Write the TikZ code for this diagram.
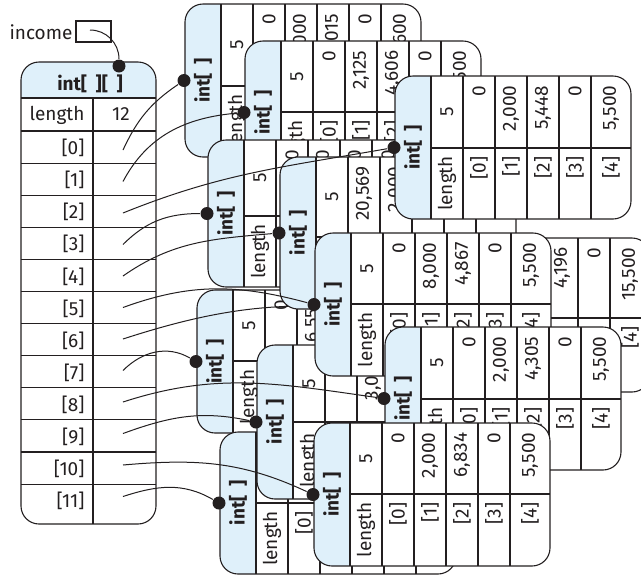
\documentclass[tikz,border=0pt]{standalone}
\usepackage{fontspec}
\setmainfont{Fira Sans}
\usepackage{xcolor}
\definecolor{hdrblue}{RGB}{223,240,250}
\definecolor{ink}{RGB}{35,31,32}
\newcommand{\gap}{\hspace{0.45em}}

\tikzset{
  val/.style={rotate=90, anchor=east, inner sep=0pt},
  cval/.style={rotate=90, inner sep=0pt},
  ptr/.style={circle, fill=ink, inner sep=0pt, minimum size=13},
  link/.style={line width=1pt}
}

% #1 name, #2 left, #3 top, #4 split, #5 bottom, #6 values [0]..[4]
\newcommand{\intblock}[6]{%
  \begin{scope}
    \clip[rounded corners=18] (#2,#3) rectangle (#2+236,#5);
    \fill[white] (#2,#3) rectangle (#2+236,#5);
    \fill[hdrblue] (#2,#3) rectangle (#2+36,#5);
  \end{scope}
  \draw[rounded corners=18] (#2,#3) rectangle (#2+236,#5);
  \draw (#2+36,#3) -- (#2+36,#5);
  \foreach \c in {68,100,132,164,196}
    \draw (#2+\c,#3) -- (#2+\c,#5);
  \draw (#2+36,#4) -- (#2+236,#4);
  \node[cval] (#1-h) at (#2+18,{(#3+#5)/2}) {\textbf{int[\gap]}};
  \node[cval] (#1-n) at (#2+52,{(#3+#4)/2}) {5};
  \node[cval] (#1-l) at (#2+52,{(#4+#5)/2}) {length};
  \foreach \v [count=\k from 0] in {#6} {
    \pgfmathsetmacro\xc{#2+84+32*\k+ifthenelse(\k==4,4,0)}
    \node[val] (#1-v\k) at (\xc,#3+9) {\v};
    \node[val] (#1-i\k) at (\xc,#4+8) {[\k]};
  }
  \node[ptr] (#1-p) at (#2-1,{(#3+#5)/2}) {};
}

\begin{document}
\begin{tikzpicture}[x=1pt, y=-1pt, line width=1.1pt, color=ink,
    font=\fontsize{19}{22}\selectfont]

  \useasboundingbox (0,0) rectangle (641,574);

  % the income variable
  \node[anchor=base east, inner sep=0pt] (inc-lbl) at (73,39) {income};
  \node[draw, minimum width=35, minimum height=21, inner sep=0pt] (inc) at (93.5,31.5) {};
  \coordinate (inc-s) at (90,30);

  % int[][] array
  \begin{scope}
    \clip[rounded corners=18] (21,62) rectangle (156,524);
    \fill[white] (21,62) rectangle (156,524);
    \fill[hdrblue] (21,62) rectangle (156,98);
  \end{scope}
  \draw[rounded corners=18] (21,62) rectangle (156,524);
  \draw (21,98) -- (156,98);
  \draw (93,98) -- (93,524);
  \foreach \k in {0,...,11}
    \draw (21,131+32.1*\k) -- (156,131+32.1*\k);
  \node (arr-h) at (90,84) {\textbf{int[\gap][\gap]}};
  \node[anchor=east, inner sep=0pt] (arr-len) at (85,115) {length};
  \node (arr-n) at (121,114) {12};
  \foreach \k in {0,...,11} {
    \node[anchor=east, inner sep=0pt] (arr-i\k) at (85,148+32.1*\k) {[\k]};
    \coordinate (m\k) at (123,150+31.5*\k);
  }
  \node[ptr] (arr-p) at (119,66) {};
  \draw[link] (inc-s) to[out=0,in=90] (arr-p);

  % the rows, back to front
  \intblock{r0}{185}{4}{86}{157}{0,{2,000},{3,015},0,{5,600}}
  \draw[link] (m0) to[out=65,in=214] (r0-p);

  \intblock{r1}{245}{41}{112}{184}{0,{2,125},{4,606},0,{5,500}}
  \draw[link] (m1) to[out=62,in=185] (r1-p);

  \intblock{r3}{208}{140}{216}{287}{0,{1,500},{4,780},0,{5,500}}
  \draw[link] (m3) to[out=45,in=180] (r3-p);

  \intblock{r7}{197}{290}{361}{433}{0,{6,555},{4,200},0,{5,500}}
  \draw[link] (m7) to[out=45,in=150] (r7-p);

  \intblock{r11}{220}{432}{503}{574}{0,{2,000},{5,120},0,{5,500}}
  \draw[link] (m11) to[out=18,in=150] (r11-p);

  \intblock{r9}{257}{345}{422}{499}{0,{3,000},{4,950},0,{5,500}}
  \draw[link] (m9) to[out=20,in=168] (r9-p);

  \intblock{r6}{414}{238}{318}{392}{0,{3,200},{4,196},0,{15,500}}
  \draw[link] (m6) to[out=18,in=172] (r6-p);

  \intblock{r4}{280}{157}{237}{309}{{20,569},{2,000},{4,512},0,{5,500}}
  \draw[link] (m4) to[out=35,in=185] (r4-p);

  \intblock{r5}{315}{233}{304}{376}{0,{8,000},{4,867},0,{5,500}}
  \draw[link] (m5) to[out=20,in=165] (r5-p);

  \intblock{r8}{385}{327}{399}{470}{0,{2,000},{4,305},0,{5,500}}
  \draw[link] (m8) to[out=18,in=172] (r8-p);

  \intblock{r10}{314}{423}{494}{566}{0,{2,000},{6,834},0,{5,500}}
  \draw[link] (m10) to[out=5,in=155] (r10-p);

  \intblock{r2}{395}{76}{148}{219}{0,{2,000},{5,448},0,{5,500}}
  \draw[link] (m2) to[out=22,in=190] (r2-p);

\end{tikzpicture}
\end{document}
